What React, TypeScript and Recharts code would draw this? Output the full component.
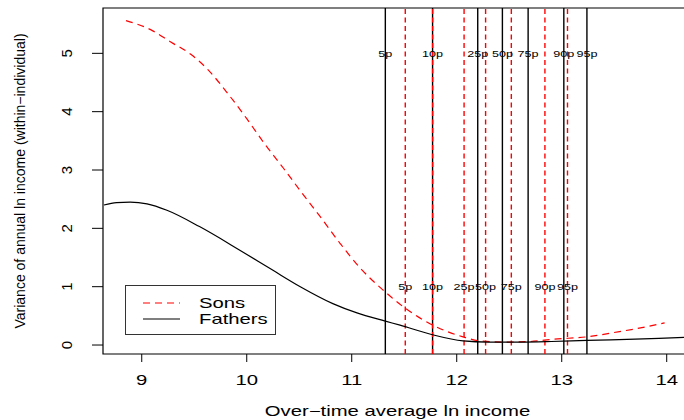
import React from "react";
import {
  ComposedChart,
  Line,
  Scatter,
  XAxis,
  YAxis,
  ReferenceLine,
  ReferenceArea,
  Legend,
} from "recharts";

// curves (x = avg ln income, y = variance)
const sonsX = [8.85, 9.08, 9.28, 9.47, 9.63, 9.82, 10.0, 10.17, 10.35, 10.52, 10.7, 10.89, 11.08, 11.3, 11.51, 11.74, 12.06, 12.22, 12.45, 12.7, 12.92, 13.24, 13.55, 13.8, 13.98];
const sonsY = [5.56, 5.41, 5.19, 4.98, 4.72, 4.31, 3.88, 3.45, 3.03, 2.62, 2.2, 1.74, 1.32, 0.94, 0.63, 0.37, 0.14, 0.07, 0.05, 0.06, 0.1, 0.14, 0.23, 0.31, 0.38];
const fathersX = [8.64, 8.76, 8.89, 9.05, 9.24, 9.55, 9.93, 10.25, 10.51, 10.82, 11.05, 11.32, 11.46, 11.76, 12.06, 12.3, 12.6, 12.9, 13.24, 13.7, 14.17, 14.4];
const fathersY = [2.4, 2.44, 2.45, 2.42, 2.31, 2.03, 1.63, 1.28, 1.0, 0.71, 0.55, 0.41, 0.34, 0.18, 0.07, 0.05, 0.05, 0.06, 0.08, 0.1, 0.13, 0.14];

// percentile lines
const pctLabels = ["5p", "10p", "25p", "50p", "75p", "90p", "95p"];
const fathersPct = [11.32, 11.77, 12.2, 12.435, 12.68, 13.02, 13.24];
const sonsPct = [11.51, 11.77, 12.07, 12.275, 12.52, 12.84, 13.055];

const legendOrder = ["Sons", "Fathers"];
const xTicks = [9, 10, 11, 12, 13, 14];
const yTicks = [0, 1, 2, 3, 4, 5];

const xMin = 8.631;
const xMax = 14.317;
const yMin = -0.154;
const yMax = 5.777;

const sonsData = sonsX.map((x, i) => ({ x, y: sonsY[i] }));
const fathersData = fathersX.map((x, i) => ({ x, y: fathersY[i] }));
const fathersLabels = fathersPct.map((x, i) => ({ x, y: 5, label: pctLabels[i] }));
const sonsLabels = sonsPct.map((x, i) => ({ x, y: 1, label: pctLabels[i] }));

const FONT = "'Liberation Sans', Arial, Helvetica, sans-serif";
const STRETCH = 1.45; // the picture is wider than tall, text too

const XTick = ({ x, y, payload }: any) => (
  <text
    transform={`translate(${x},${y}) scale(${STRETCH},1)`}
    textAnchor="middle"
    dy="0.36em"
    fontSize={14}
    fontFamily={FONT}
    fill="#000"
  >
    {payload.value}
  </text>
);

const YTick = ({ x, y, payload }: any) => (
  <text
    transform={`translate(${x},${y}) rotate(-90)`}
    textAnchor="middle"
    dy="0.36em"
    fontSize={15}
    fontFamily={FONT}
    fill="#000"
  >
    {payload.value}
  </text>
);

const pctShape = (p: any) => (
  <text
    transform={`translate(${p.cx},${p.cy}) scale(1.4,1)`}
    textAnchor="middle"
    dy="0.36em"
    fontSize={9}
    fontFamily={FONT}
    fill="#000"
  >
    {p.payload.label}
  </text>
);

const XTitle = ({ viewBox }: any) => (
  <text
    transform={`translate(${viewBox.x + viewBox.width / 2 - 4},${viewBox.y + 57}) scale(${STRETCH},1)`}
    textAnchor="middle"
    dy="0.36em"
    fontSize={14}
    fontFamily={FONT}
    fill="#000"
  >
    Over−time average ln income
  </text>
);

const YTitle = ({ viewBox }: any) => (
  <text
    transform={`translate(20,${viewBox.y + viewBox.height / 2}) rotate(-90)`}
    textAnchor="middle"
    dy="0.36em"
    fontSize={14}
    fontFamily={FONT}
    fill="#000"
  >
    Variance of annual ln income (within−individual)
  </text>
);

const LegendBox = ({ payload }: any) => {
  const items = legendOrder
    .map((name) => (payload || []).find((e: any) => e.value === name && e.type !== "none"))
    .filter(Boolean);
  return (
    <svg width={152} height={51} style={{ display: "block" }}>
      <rect x={0.5} y={0.5} width={150} height={49} fill="#fff" stroke="#333" />
      {items.map((e: any, i: number) => {
        const ry = 18 + i * 16;
        return (
          <g key={e.value}>
            <line
              x1={18}
              x2={55}
              y1={ry}
              y2={ry}
              stroke={e.color}
              strokeWidth={1.2}
              strokeDasharray={e.payload && e.payload.strokeDasharray}
            />
            <text
              transform={`translate(74,${ry}) scale(${STRETCH},1)`}
              dy="0.36em"
              fontSize={14}
              fontFamily={FONT}
              fill="#000"
            >
              {e.value}
            </text>
          </g>
        );
      })}
    </svg>
  );
};

export default function App() {
  return (
    <div style={{ width: 684, height: 420, overflow: "hidden", position: "relative", background: "#fff" }}>
      <style>{"body{margin:0}"}</style>
      <ComposedChart width={700} height={420} margin={{ top: 8, right: 0, left: 0, bottom: 0 }}>
        <XAxis
          type="number"
          dataKey="x"
          domain={[xMin, xMax]}
          ticks={xTicks}
          allowDataOverflow
          axisLine={false}
          tickLine={{ stroke: "#000" }}
          tickSize={8}
          tickMargin={18}
          height={66}
          tick={<XTick />}
          label={{ content: XTitle }}
        />
        <YAxis
          type="number"
          domain={[yMin, yMax]}
          ticks={yTicks}
          allowDataOverflow
          axisLine={false}
          tickLine={{ stroke: "#000" }}
          tickSize={11}
          tickMargin={25}
          width={103}
          tick={<YTick />}
          label={{ content: YTitle }}
        />
        <ReferenceArea x1={xMin} x2={xMax} y1={yMin} y2={yMax} fill="none" stroke="#000" strokeWidth={1.2} />
        {fathersPct.map((v) => (
          <ReferenceLine key={"f" + v} x={v} stroke="#000" strokeWidth={1.4} />
        ))}
        {sonsPct.map((v) => (
          <ReferenceLine key={"s" + v} x={v} stroke="#FF0000" strokeWidth={1.4} strokeDasharray="5 3.5" />
        ))}
        <Line
          name="Sons"
          data={sonsData}
          dataKey="y"
          type="monotone"
          stroke="#FF0000"
          strokeWidth={1.2}
          strokeDasharray="7 5"
          dot={false}
          isAnimationActive={false}
        />
        <Line
          name="Fathers"
          data={fathersData}
          dataKey="y"
          type="monotone"
          stroke="#000"
          strokeWidth={1.2}
          dot={false}
          isAnimationActive={false}
        />
        <Scatter data={fathersLabels} dataKey="y" shape={pctShape} legendType="none" isAnimationActive={false} />
        <Scatter data={sonsLabels} dataKey="y" shape={pctShape} legendType="none" isAnimationActive={false} />
        <Legend
          layout="vertical"
          align="center"
          verticalAlign="middle"
          wrapperStyle={{ left: 125, top: 285, width: 152, height: 51 }}
          content={<LegendBox />}
        />
      </ComposedChart>
    </div>
  );
}
